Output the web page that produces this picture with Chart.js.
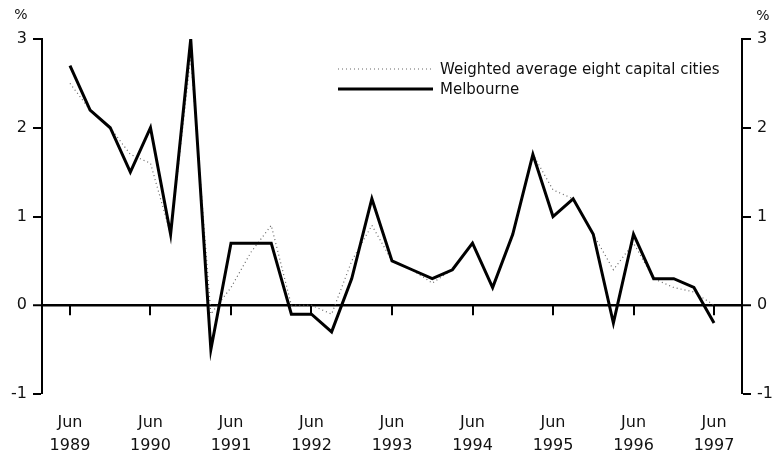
<!DOCTYPE html>
<html><head><meta charset="utf-8">
<script src="https://cdn.jsdelivr.net/npm/chart.js@4"></script>
<style>html,body{margin:0;padding:0;background:#fff}#wrap{width:773px;height:455px}</style>
</head><body><div id="wrap"><canvas id="c" width="773" height="455"></canvas></div>
<script>
// Quarterly periods, Jun 1989 .. Jun 1997
const categories = [
 'Jun 1989','Sep 1989','Dec 1989','Mar 1990','Jun 1990','Sep 1990','Dec 1990','Mar 1991',
 'Jun 1991','Sep 1991','Dec 1991','Mar 1992','Jun 1992','Sep 1992','Dec 1992','Mar 1993',
 'Jun 1993','Sep 1993','Dec 1993','Mar 1994','Jun 1994','Sep 1994','Dec 1994','Mar 1995',
 'Jun 1995','Sep 1995','Dec 1995','Mar 1996','Jun 1996','Sep 1996','Dec 1996','Mar 1997',
 'Jun 1997'];
const melbourne = [2.7,2.2,2.0,1.5,2.0,0.8,3.0,-0.5,0.7,0.7,0.7,-0.1,-0.1,-0.3,0.3,1.2,
 0.5,0.4,0.3,0.4,0.7,0.2,0.8,1.7,1.0,1.2,0.8,-0.2,0.8,0.3,0.3,0.2,-0.2];
const weighted = [2.5,2.2,2.0,1.7,1.6,0.8,2.8,-0.1,0.2,0.6,0.9,0.0,0.0,-0.1,0.5,0.9,
 0.5,0.4,0.25,0.4,0.7,0.2,0.8,1.7,1.3,1.2,0.8,0.4,0.7,0.3,0.2,0.15,0.0];
const seriesNames = ['Weighted average eight capital cities','Melbourne'];
const tickMonth = 'Jun';
const tickYears = ['1989','1990','1991','1992','1993','1994','1995','1996','1997'];
const xTickIndex = tickYears.map(y => categories.indexOf(tickMonth + ' ' + y));
const yMin = -1, yMax = 3, yStep = 1;
const unitLabel = '%';

const FONT = 'DejaVu Sans';
const TXT = '#111';

const zeroTicks = {
  id:'zeroTicks',
  beforeDatasetsDraw(chart){
    const {ctx, scales:{x,y}} = chart;
    const y0 = y.getPixelForValue(0);
    ctx.save();
    ctx.strokeStyle = '#000'; ctx.lineWidth = 2;
    xTickIndex.forEach(v => {
      const px = Math.round(x.getPixelForValue(v));
      ctx.beginPath(); ctx.moveTo(px, y0); ctx.lineTo(px, y0 + 10); ctx.stroke();
    });
    ctx.restore();
  }
};
const extras = {
  id:'extras',
  afterDraw(chart){
    const {ctx} = chart;
    ctx.save();
    ctx.fillStyle = TXT;
    ctx.font = '14px "' + FONT + '"';
    ctx.textBaseline = 'middle';
    ctx.textAlign = 'center';
    ctx.fillText(unitLabel, 21, 15);
    ctx.fillText(unitLabel, 763, 16);
    // legend
    const ds = chart.data.datasets;
    const lx0 = 338, lx1 = 433, tx = 440, rows = [69, 89];
    ds.forEach((d, i) => {
      ctx.save();
      ctx.strokeStyle = d.borderColor;
      ctx.lineWidth = d.borderWidth;
      ctx.setLineDash(d.borderDash || []);
      ctx.beginPath(); ctx.moveTo(lx0, rows[i]); ctx.lineTo(lx1, rows[i]); ctx.stroke();
      ctx.restore();
      ctx.font = '15px "' + FONT + '"';
      ctx.textAlign = 'left';
      ctx.fillStyle = TXT;
      ctx.fillText(d.label, tx, rows[i] + 1);
    });
    ctx.restore();
  }
};

const yGrid = (onArea) => ({
  drawOnChartArea: onArea,
  color: c => (c.tick && c.tick.value === 0) ? '#000' : 'rgba(0,0,0,0)',
  lineWidth: c => (c.tick && c.tick.value === 0) ? 2.5 : 0,
  tickColor: '#000', tickWidth: 2, tickLength: 9, drawTicks: true
});
const yTicks = {stepSize: yStep, padding: 6, color: TXT, font: {family: FONT, size: 16}};

new Chart(document.getElementById('c').getContext('2d'), {
  type: 'line',
  data: {
    datasets: [
      {label: seriesNames[0], data: weighted.map((v,i)=>({x:i, y:v})), borderColor:'#666',
       borderWidth:1.2, borderDash:[1,3], pointRadius:0, tension:0, order:1, fill:false},
      {label: seriesNames[1], data: melbourne.map((v,i)=>({x:i, y:v})), borderColor:'#000',
       borderWidth:3, pointRadius:0, tension:0, order:0, fill:false, borderJoinStyle:'miter'}
    ]
  },
  options: {
    responsive:false, animation:false,
    layout:{padding:{top:39, left:0, right:0, bottom:0}},
    plugins:{legend:{display:false}, tooltip:{enabled:false}},
    scales:{
      x:{type:'linear', min:-1.39, max:(categories.length-1)+1.39,
        afterBuildTicks: s => { s.ticks = xTickIndex.map(v => ({value:v})); },
        afterFit: s => { s.height = 61; },
        grid:{display:false, drawTicks:false}, border:{display:false},
        ticks:{autoSkip:false, maxRotation:0, minRotation:0, padding:17, color:TXT,
          font:{family:FONT, size:16, lineHeight:1.45},
          callback: v => [tickMonth, tickYears[xTickIndex.indexOf(v)]]}
      },
      y:{position:'left', min:yMin, max:yMax, afterFit: s => { s.width = 42; },
        grid: yGrid(true), border:{display:true, color:'#000', width:2}, ticks: yTicks},
      y2:{position:'right', min:yMin, max:yMax, afterFit: s => { s.width = 31; },
        grid: yGrid(false), border:{display:true, color:'#000', width:2}, ticks: yTicks}
    }
  },
  plugins:[zeroTicks, extras]
});
</script></body></html>
